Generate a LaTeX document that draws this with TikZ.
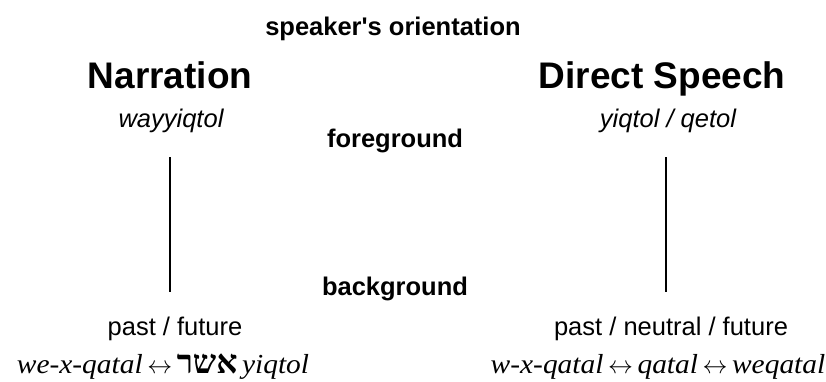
\documentclass[tikz,border=0pt]{standalone}
\usepackage{fontspec}
\setmainfont{Liberation Sans}
\newfontfamily\sansfont{Liberation Sans}
\newfontfamily\formfont[FakeStretch=1.07]{Liberation Serif}
\newfontfamily\hebrewfont[Script=Hebrew]{Liberation Serif}
\TeXXeTstate=1
\newcommand{\swap}{\,$\leftrightarrow$\,}
\begin{document}
\begin{tikzpicture}[x=1pt,y=-1pt,
  every node/.style={inner sep=0pt,outer sep=0pt,anchor=base,text=black},
  title/.style={font=\sansfont\bfseries\fontsize{37}{42}\selectfont},
  label/.style={font=\sansfont\bfseries\fontsize{25.5}{30}\selectfont},
  tense/.style={font=\sansfont\itshape\fontsize{25.5}{30}\selectfont},
  time/.style={font=\sansfont\fontsize{25.5}{30}\selectfont},
  forms/.style={font=\formfont\itshape\fontsize{27.5}{32}\selectfont},
  axis/.style={line width=1.2pt,black}]
  \useasboundingbox (0,0) rectangle (826,381);

  \node[label] (orient) at (393,35) {speaker's orientation};

  \node[title] (narr) at (170,88) {Narration};
  \node[title] (speech) at (662,88) {Direct Speech};

  \node[tense] (wayy) at (171,127) {wayyiqtol};
  \node[tense] (yiq) at (668,127) {yiqtol / qetol};

  \node[label] (fg) at (395,147) {foreground};
  \node[label] (bg) at (395,295) {background};

  \coordinate (ltop) at (170,157);
  \coordinate (lbot) at (170,292);
  \coordinate (rtop) at (666,157);
  \coordinate (rbot) at (666,292);
  \draw[axis] (ltop) -- (lbot);
  \draw[axis] (rtop) -- (rbot);

  \node[time] (lpast) at (175,335) {past / future};
  \node[time] (rpast) at (671,335) {past / neutral / future};

  \node[forms] (lforms) at (163,373) {we-x-qatal\swap{\hebrewfont\bfseries\upshape\fontsize{33}{36}\selectfont\beginR אשר\endR}\,yiqtol};
  \node[forms] (rforms) at (658,373) {w-x-qatal\swap qatal\swap weqatal};
\end{tikzpicture}
\end{document}
